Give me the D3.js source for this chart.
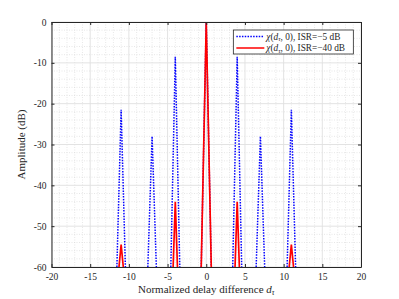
<!DOCTYPE html>
<meta charset="utf-8">
<script src="https://d3js.org/d3.v7.min.js"></script>
<style>
  body { margin: 0; background: #fff; }
  text { font-family: "Liberation Serif", "DejaVu Serif", serif; fill: #262626; }
</style>
<body>
<div id="chart"></div>
<script>
  // peak positions (normalized delay) and peak levels in dB
  var peakPos   = [-11, -7, -4, 0, 4, 7, 11];
  var bluePeaks = [-21.5, -28, -8.5, 0, -8.5, -28, -21.5];
  var blueHalf  = [0.55, 0.55, 0.58, 0.65, 0.58, 0.55, 0.55]; // half width at -60 dB
  var redPos    = [-11, -4, 0, 4, 11];
  var redPeaks  = [-54.5, -44, 0, -44, -54.5];
  var redHalf   = [0.28, 0.28, 0.65, 0.28, 0.28];
  var xTicks = [-20, -15, -10, -5, 0, 5, 10, 15, 20];
  var yTicks = [0, -10, -20, -30, -40, -50, -60];

  var W = 399, H = 299;
  var margin = {top: 22, right: 38, bottom: 32, left: 51.5};
  var width = W - margin.left - margin.right,
      height = H - margin.top - margin.bottom;

  var svg = d3.select("#chart").append("svg")
      .attr("width", W).attr("height", H);

  var g = svg.append("g")
      .attr("transform", `translate(${margin.left},${margin.top})`);

  var x = d3.scaleLinear().domain([-20, 20]).range([0, width]);
  var y = d3.scaleLinear().domain([-60, 0]).range([height, 0]);

  // minor grid
  var xMinor = d3.range(-20, 21, 1).filter(function(v) { return v % 5 != 0; });
  var yMinor = d3.range(-60, 1, 2).filter(function(v) { return v % 10 != 0; });
  g.selectAll(".xminor").data(xMinor).join("line")
    .attr("x1", d => x(d)).attr("x2", d => x(d)).attr("y1", 0).attr("y2", height)
    .attr("stroke", "#d6d6d6").attr("stroke-width", 0.6).attr("stroke-dasharray", "1,1.5");
  g.selectAll(".yminor").data(yMinor).join("line")
    .attr("y1", d => y(d)).attr("y2", d => y(d)).attr("x1", 0).attr("x2", width)
    .attr("stroke", "#d6d6d6").attr("stroke-width", 0.6).attr("stroke-dasharray", "1,1.5");

  // major grid
  g.selectAll(".xgrid").data(xTicks).join("line")
    .attr("x1", d => x(d)).attr("x2", d => x(d)).attr("y1", 0).attr("y2", height)
    .attr("stroke", "#e0e0e0").attr("stroke-width", 0.9);
  g.selectAll(".ygrid").data(yTicks).join("line")
    .attr("y1", d => y(d)).attr("y2", d => y(d)).attr("x1", 0).attr("x2", width)
    .attr("stroke", "#e0e0e0").attr("stroke-width", 0.9);

  g.append("clipPath").attr("id", "clip").append("rect")
    .attr("width", width).attr("height", height);

  var line = d3.line().x(d => x(d[0])).y(d => y(d[1]));
  var plot = g.append("g").attr("clip-path", "url(#clip)");

  // blue dotted, ISR = -5 dB
  plot.selectAll(".blue").data(peakPos).join("path")
    .attr("d", function(p, i) {
      return line([[p - blueHalf[i], -60], [p, bluePeaks[i]], [p + blueHalf[i], -60]]);
    })
    .attr("fill", "none").attr("stroke", "#0000ff").attr("stroke-width", 1.5)
    .attr("stroke-dasharray", "1.5,1.3");

  // red solid, ISR = -40 dB
  plot.selectAll(".red").data(redPos).join("path")
    .attr("d", function(p, i) {
      return line([[p - redHalf[i], -60], [p, redPeaks[i]], [p + redHalf[i], -60]]);
    })
    .attr("fill", "none").attr("stroke", "#ff0000").attr("stroke-width", 1.7);

  // axes (box with inward ticks)
  var axc = "#262626";
  g.append("g").attr("transform", `translate(0,${height})`)
    .call(d3.axisBottom(x).tickValues(xTicks).tickSizeInner(-3).tickSizeOuter(0).tickPadding(6))
    .call(a => a.select(".domain").attr("stroke", axc))
    .call(a => a.selectAll("line").attr("stroke", axc))
    .call(a => a.selectAll("text").attr("font-size", 9.5).attr("font-family", "Liberation Serif").attr("fill", axc)
      .text(d => d < 0 ? "-" + Math.abs(d) : d));
  g.append("g")
    .call(d3.axisLeft(y).tickValues(yTicks).tickSizeInner(-3).tickSizeOuter(0).tickPadding(5))
    .call(a => a.select(".domain").attr("stroke", axc))
    .call(a => a.selectAll("line").attr("stroke", axc))
    .call(a => a.selectAll("text").attr("font-size", 9.5).attr("font-family", "Liberation Serif").attr("fill", axc)
      .text(d => d < 0 ? "-" + Math.abs(d) : d));
  g.append("g")
    .call(d3.axisTop(x).tickValues(xTicks).tickSizeInner(-3).tickSizeOuter(0).tickFormat(""))
    .call(a => a.select(".domain").attr("stroke", axc))
    .call(a => a.selectAll("line").attr("stroke", axc));
  g.append("g").attr("transform", `translate(${width},0)`)
    .call(d3.axisRight(y).tickValues(yTicks).tickSizeInner(-3).tickSizeOuter(0).tickFormat(""))
    .call(a => a.select(".domain").attr("stroke", axc))
    .call(a => a.selectAll("line").attr("stroke", axc));

  // axis labels
  var xl = g.append("text").attr("x", width / 2).attr("y", height + 26)
    .attr("text-anchor", "middle").attr("font-size", 11);
  xl.append("tspan").text("Normalized delay difference ");
  xl.append("tspan").attr("font-style", "italic").text("d");
  xl.append("tspan").attr("font-style", "italic").attr("font-size", 7.5).attr("dy", 2).text("τ");

  g.append("text")
    .attr("transform", `translate(-27,${height / 2}) rotate(-90)`)
    .attr("text-anchor", "middle").attr("font-size", 11)
    .text("Amplitude (dB)");

  // legend
  var leg = g.append("g").attr("transform", `translate(${x(3.5)},8)`);
  leg.append("rect").attr("width", 120).attr("height", 24)
    .attr("fill", "#fff").attr("stroke", axc).attr("stroke-width", 0.8);
  var items = [
    {isr: "−5", color: "#0000ff", dash: "1.5,1.3"},
    {isr: "−40", color: "#ff0000", dash: null}
  ];
  items.forEach(function(it, i) {
    var yy = 6.5 + i * 11.5;
    leg.append("line").attr("x1", 3).attr("x2", 31).attr("y1", yy).attr("y2", yy)
      .attr("stroke", it.color).attr("stroke-width", 1.5)
      .attr("stroke-dasharray", it.dash);
    var t = leg.append("text").attr("x", 33).attr("y", yy + 3.3).attr("font-size", 9.3);
    t.append("tspan").attr("font-style", "italic").text("χ");
    t.append("tspan").text("(");
    t.append("tspan").attr("font-style", "italic").text("d");
    t.append("tspan").attr("font-style", "italic").attr("font-size", 6.5).attr("dy", 1.5).text("τ");
    t.append("tspan").attr("dy", -1.5).text(", 0), ISR=" + it.isr + " dB");
  });
</script>
</body>
